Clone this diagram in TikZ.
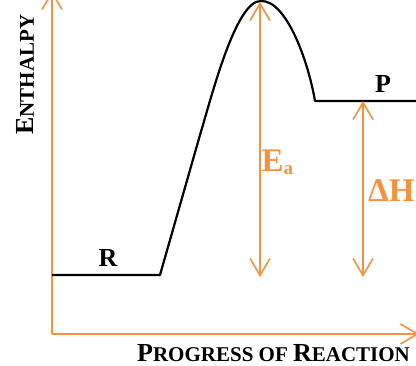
\documentclass[tikz,border=0pt]{standalone}
\usepackage{fontspec}
\setmainfont{Liberation Serif}
\usetikzlibrary{arrows.meta}

\definecolor{axisorange}{RGB}{246,146,62}

% fake small caps
\newcommand{\capbig}[1]{{\fontsize{26}{26}\selectfont #1}}
\newcommand{\capsmall}[1]{{\fontsize{21}{21}\selectfont #1}}

\begin{document}
\begin{tikzpicture}[x=1pt, y=-1pt,
    axis/.style={axisorange, line width=1.6pt, -{Straight Barb[length=17pt,width=20pt]}},
    gap/.style={axisorange, line width=1.6pt,
        {Straight Barb[length=17pt,width=20pt]}-{Straight Barb[length=17pt,width=20pt]}},
    profile/.style={black, line width=2.2pt, line join=round},
    lbl/.style={font=\bfseries, inner sep=0pt}]

    \useasboundingbox (0,0) rectangle (416,366);

    % Parameters
    \def\Hr{275}     % enthalpy of reactants
    \def\Hp{101}     % enthalpy of products
    \def\Hbase{277}  % lower end of the gaps

    % Key points
    \coordinate (origin) at (52,334);
    \coordinate (ytip) at (52,-9);
    \coordinate (xtip) at (419,334);
    \coordinate (peak) at (261,1);
    \coordinate (ea-top) at (260,2);
    \coordinate (ea-bot) at (260,\Hbase);
    \coordinate (dh-top) at (363,\Hp);
    \coordinate (dh-bot) at (363,\Hbase);

    % Axes
    \draw[axis] (origin) -- (ytip);
    \draw[axis] (origin) -- (xtip);

    % Energy profile
    \draw[profile] (52,\Hr) -- (160,\Hr) -- (200,135)
        .. controls (212,95) and (236,0) .. (peak)
        .. controls (286,0) and (308,60) .. (315,\Hp) -- (416,\Hp);

    % Activation energy and enthalpy change
    \draw[gap] (ea-top) -- (ea-bot);
    \draw[gap] (dh-top) -- (dh-bot);

    % Labels
    \node[lbl, anchor=base] (r) at (108,267) {\capbig{R}};
    \node[lbl, anchor=base] (p) at (383,92.5) {\capbig{P}};

    \node[lbl, axisorange, anchor=base west] (ea) at (261.5,171.5)
        {\fontsize{33}{33}\selectfont E\raisebox{-3pt}{\fontsize{19}{19}\selectfont a}};
    \node[lbl, axisorange, anchor=base west] (dh) at (368,201.5)
        {\fontsize{33}{33}\selectfont ΔH};

    % Axis titles
    \node[lbl, rotate=90, anchor=base west] (ylab) at (34,135)
        {\capbig{E}\capsmall{NTHALPY}};
    \node[lbl, anchor=base west] (xlab) at (137,362)
        {\capbig{P}\capsmall{ROGRESS OF }\capbig{R}\capsmall{EACTION}};

\end{tikzpicture}
\end{document}
